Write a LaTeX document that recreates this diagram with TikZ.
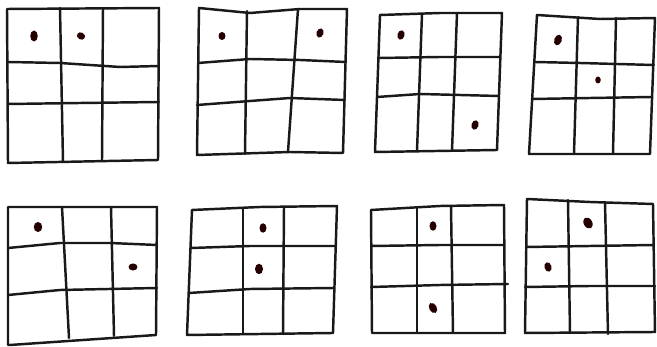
\documentclass[tikz,border=0pt]{standalone}
\usepackage{tikz}
\usetikzlibrary{shapes.geometric}

\begin{document}
\begin{tikzpicture}[x=0.02cm, y=-0.02cm,
    ink/.style={line width=1.4pt, line join=round, line cap=round, black!90},
    dot/.style={ellipse, fill=black!85!red, inner sep=0pt, minimum width=0.14cm, minimum height=0.19cm}]
    \useasboundingbox (0,0) rectangle (657,347);
    % top row
    % grid 1
    \draw[ink] (7,9) -- (159,8) -- (158,160) -- (8,163) -- cycle;
    \draw[ink] (60,8) -- (63,162);
    \draw[ink] (103,8) -- (102,161);
    \draw[ink] (8,62) -- (60,63) -- (120,67) -- (159,66);
    \draw[ink] (8,104) -- (80,103) -- (159,102);
    \node[dot, minimum width=0.15cm, minimum height=0.22cm] (g1a) at (34,36) {};
    \node[dot, rotate=60, minimum height=0.17cm] (g1b) at (81,36) {};
    % grid 2
    \draw[ink] (199,8) -- (250,13) -- (300,9) -- (347,9) -- (343,153) -- (290,152) -- (197,155) -- cycle;
    \draw[ink] (247,11) -- (245,154);
    \draw[ink] (298,9) -- (288,152);
    \draw[ink] (198,63) -- (250,59) -- (300,60) -- (346,62);
    \draw[ink] (197,105) -- (250,101) -- (290,98) -- (345,100);
    \node[dot, minimum height=0.16cm] (g2a) at (222,36) {};
    \node[dot, rotate=-20] (g2b) at (320,33) {};
    % grid 3
    \draw[ink] (380,15) -- (440,13) -- (502,13) -- (497,150) -- (375,152) -- cycle;
    \draw[ink] (422,14) -- (417,151);
    \draw[ink] (457,13) -- (452,151);
    \draw[ink] (379,58) -- (440,57) -- (500,57);
    \draw[ink] (377,97) -- (420,94) -- (460,95) -- (499,96);
    \node[dot, rotate=-15] (g3a) at (401,35) {};
    \node[dot, rotate=-15] (g3b) at (475,125) {};
    % grid 4
    \draw[ink] (537,15) -- (600,19) -- (655,18) -- (650,154) -- (529,154) -- cycle;
    \draw[ink] (578,17) -- (574,154);
    \draw[ink] (616,18) -- (613,154);
    \draw[ink] (535,62) -- (580,63) -- (654,65);
    \draw[ink] (532,99) -- (590,98) -- (652,97);
    \node[dot, rotate=-20, minimum width=0.15cm, minimum height=0.22cm] (g4a) at (558,40) {};
    \node[dot, minimum width=0.11cm, minimum height=0.14cm] (g4b) at (598,80) {};
    % bottom row
    % grid 5
    \draw[ink] (8,207) -- (157,207) -- (156,335) -- (10,345) -- (8,345) -- cycle;
    \draw[ink] (62,207) -- (69,338);
    \draw[ink] (111,207) -- (114,336);
    \draw[ink] (8,248) -- (60,243) -- (110,243) -- (157,245);
    \draw[ink] (8,295) -- (60,290) -- (157,288);
    \node[dot, minimum width=0.17cm, minimum height=0.2cm] (g5a) at (38,227) {};
    \node[dot, rotate=90, minimum height=0.18cm] (g5b) at (133,267) {};
    % grid 6
    \draw[ink] (192,210) -- (260,207) -- (337,206) -- (333,333) -- (187,335) -- cycle;
    \draw[ink] (243,208) -- (243,334);
    \draw[ink] (284,207) -- (283,334);
    \draw[ink] (191,248) -- (250,246) -- (336,246);
    \draw[ink] (189,293) -- (250,289) -- (334,288);
    \node[dot] (g6a) at (263,228) {};
    \node[dot, minimum width=0.16cm, minimum height=0.21cm] (g6b) at (259,269) {};
    % grid 7
    \draw[ink] (371,210) -- (440,206) -- (504,205) -- (505,333) -- (372,333) -- cycle;
    \draw[ink] (417,207) -- (417,333);
    \draw[ink] (451,206) -- (453,333);
    \draw[ink] (371,246) -- (440,245) -- (504,245);
    \draw[ink] (371,287) -- (440,285) -- (508,284);
    \node[dot] (g7a) at (433,226) {};
    \node[dot, rotate=30, minimum width=0.15cm, minimum height=0.22cm] (g7b) at (433,308) {};
    % grid 8
    \draw[ink] (527,199) -- (590,202) -- (653,204) -- (655,332) -- (525,333) -- cycle;
    \draw[ink] (568,200) -- (570,333);
    \draw[ink] (605,202) -- (608,334);
    \draw[ink] (526,247) -- (590,246) -- (654,245);
    \draw[ink] (525,287) -- (590,286) -- (655,286);
    \node[dot, rotate=30, minimum width=0.17cm, minimum height=0.24cm] (g8a) at (588,223) {};
    \node[dot, rotate=15] (g8b) at (548,267) {};
\end{tikzpicture}
\end{document}
